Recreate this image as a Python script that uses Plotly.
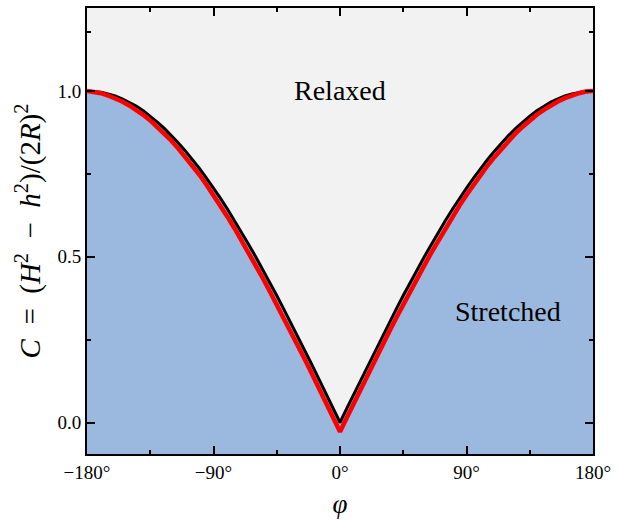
import plotly.graph_objects as go

# angle phi in degrees
phi = [-180, -175, -170, -165, -160, -155, -150, -145, -140, -135, -130, -125, -120, -115, -110, -105,
       -100, -95, -90, -85, -80, -75, -70, -65, -60, -55, -50, -45, -40, -35, -30, -25, -20, -15, -10, -5,
       0, 5, 10, 15, 20, 25, 30, 35, 40, 45, 50, 55, 60, 65, 70, 75, 80, 85, 90, 95, 100, 105, 110, 115,
       120, 125, 130, 135, 140, 145, 150, 155, 160, 165, 170, 175, 180]

# black boundary curve
c_boundary = [1.000, 0.999, 0.996, 0.991, 0.985, 0.976, 0.966, 0.954, 0.940, 0.924, 0.906, 0.887,
              0.866, 0.843, 0.819, 0.793, 0.766, 0.737, 0.707, 0.676, 0.643, 0.609, 0.574, 0.537,
              0.500, 0.462, 0.423, 0.383, 0.342, 0.301, 0.259, 0.216, 0.174, 0.131, 0.087, 0.044,
              0.000,
              0.044, 0.087, 0.131, 0.174, 0.216, 0.259, 0.301, 0.342, 0.383, 0.423, 0.462, 0.500,
              0.537, 0.574, 0.609, 0.643, 0.676, 0.707, 0.737, 0.766, 0.793, 0.819, 0.843, 0.866,
              0.887, 0.906, 0.924, 0.940, 0.954, 0.966, 0.976, 0.985, 0.991, 0.996, 0.999, 1.000]

c_measured = [1.000, 0.998, 0.993, 0.986, 0.978, 0.968, 0.956, 0.943, 0.928, 0.911, 0.892, 0.872,
              0.850, 0.826, 0.801, 0.775, 0.747, 0.717, 0.686, 0.654, 0.620, 0.585, 0.549, 0.512,
              0.474, 0.436, 0.396, 0.356, 0.315, 0.274, 0.232, 0.190, 0.147, 0.104, 0.060, 0.016,
              -0.028,
              0.016, 0.060, 0.104, 0.147, 0.190, 0.232, 0.274, 0.315, 0.356, 0.396, 0.436, 0.474,
              0.512, 0.549, 0.585, 0.620, 0.654, 0.686, 0.717, 0.747, 0.775, 0.801, 0.826, 0.850,
              0.872, 0.892, 0.911, 0.928, 0.943, 0.956, 0.968, 0.978, 0.986, 0.993, 0.998, 1.000]

x_tickvals = [-180, -90, 0, 90, 180]
x_ticktext = ["−180°", "−90°", "0°", "90°", "180°"]
y_tickvals = [0.0, 0.5, 1.0]
y_ticktext = ["0.0", "0.5", "1.0"]

x_range = [-180, 180]
y_range = [-0.095, 1.25]

font_family = "'Liberation Serif', 'DejaVu Serif', serif"

fig = go.Figure()

# blue stretched region: below the boundary curve down to the bottom of the axes
fill_x = phi + [phi[-1], phi[0]]
fill_y = c_boundary + [y_range[0] - 0.1, y_range[0] - 0.1]
fig.add_trace(go.Scatter(x=fill_x, y=fill_y, fill="toself", mode="none",
                         fillcolor="#9BB9DE", hoverinfo="skip", showlegend=False))

fig.add_trace(go.Scatter(x=phi, y=c_boundary, mode="lines",
                         line=dict(color="black", width=3), showlegend=False))
fig.add_trace(go.Scatter(x=phi, y=c_measured, mode="lines",
                         line=dict(color="#FF0000", width=4.5), showlegend=False))

fig.add_annotation(x=0, y=1.0, text="Relaxed", showarrow=False,
                   font=dict(family=font_family, size=28, color="black"),
                   xanchor="center", yanchor="middle")
fig.add_annotation(x=119.5, y=0.335, text="Stretched", showarrow=False,
                   font=dict(family=font_family, size=28, color="black"),
                   xanchor="center", yanchor="middle")

axis_common = dict(showline=True, linecolor="black", linewidth=2, mirror="allticks",
                   ticks="inside", ticklen=8, tickwidth=2, tickcolor="black",
                   showgrid=False, zeroline=False,
                   tickfont=dict(family=font_family, size=19, color="black"))

fig.update_xaxes(range=x_range, tickmode="array", tickvals=x_tickvals, ticktext=x_ticktext,
                 minor=dict(ticks="inside", ticklen=4, tickwidth=2, tickcolor="black", dtick=45, tick0=-180),
                 title=dict(text="<i>φ</i>", font=dict(family=font_family, size=27, color="black"), standoff=12),
                 **axis_common)
fig.update_yaxes(range=y_range, tickmode="array", tickvals=y_tickvals, ticktext=y_ticktext,
                 minor=dict(ticks="inside", ticklen=4, tickwidth=2, tickcolor="black",
                            tickmode="array", tickvals=[0.25, 0.75, 1.177]),
                 title=dict(text="<i>C</i>  =  (<i>H</i><sup>2</sup>  −  <i>h</i><sup>2</sup>)/(2<i>R</i>)<sup>2</sup>",
                            font=dict(family=font_family, size=29, color="black"), standoff=8),
                 **axis_common)

fig.update_layout(width=620, height=520, margin=dict(l=87, r=27, t=6, b=64),
                  plot_bgcolor="#F2F2F2", paper_bgcolor="white")

fig.write_html("out.html")
